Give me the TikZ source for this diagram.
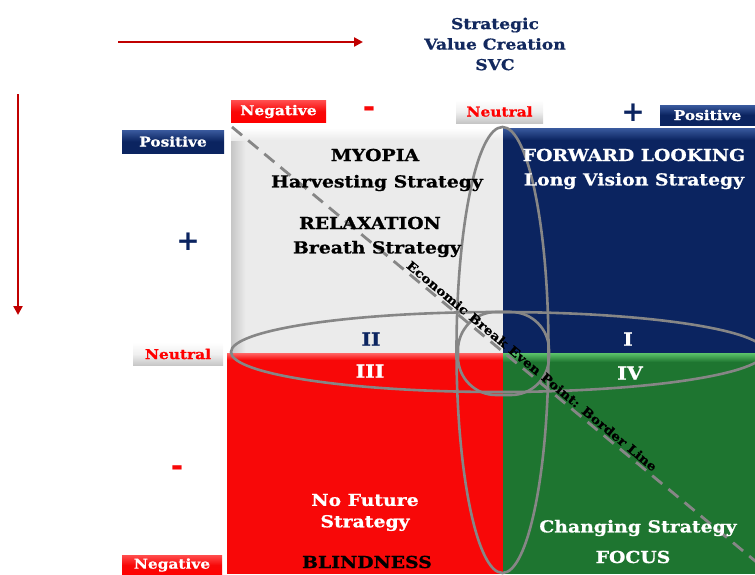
\documentclass[tikz,border=0pt]{standalone}
\usepackage{fontspec}
\setmainfont{DejaVu Serif}[FakeStretch=1.14, BoldFeatures={FakeBold=0.8}]
\newfontfamily\signfont{DejaVu Sans}
\usetikzlibrary{arrows.meta}
\definecolor{navy}{HTML}{0B2460}
\definecolor{navylight}{HTML}{3A5A9E}
\definecolor{titlenavy}{HTML}{13295E}
\definecolor{qred}{HTML}{F80808}
\definecolor{qgreen}{HTML}{1E7530}
\definecolor{qgreenlight}{HTML}{5CC46A}
\definecolor{qgray}{HTML}{EBEBEB}
\definecolor{linegray}{HTML}{868686}
\definecolor{arrowred}{HTML}{C00000}
\begin{document}
\begin{tikzpicture}[x=1pt,y=-1pt,
  lab/.style={font=\fontsize{16.5}{18}\selectfont\bfseries, inner sep=0pt, align=center},
  num/.style={font=\fontsize{18}{20}\selectfont\bfseries, inner sep=0pt},
  tagbox/.style={rectangle, inner sep=0pt, font=\fontsize{13.5}{14}\selectfont\bfseries},
  negtag/.style={tagbox, top color=red!70!white, bottom color=red, middle color=qred, text=white},
  postag/.style={tagbox, top color=navylight, bottom color=navy, middle color=navy, text=white},
  neutag/.style={tagbox, top color=white, bottom color=gray!45, middle color=gray!12, text=red},
  axisarrow/.style={draw=arrowred, line width=2.6pt, -{Triangle[length=9pt,width=9pt]}},
  ring/.style={draw=linegray, line width=2.6pt},
  border/.style={draw=linegray, line width=2.8pt, dash pattern=on 13pt off 8pt}
]
\useasboundingbox (0,0) rectangle (755,574);
\begin{scope}
\clip (0,0) rectangle (755,574);
% quadrants
\shade[left color=gray!45, right color=qgray, middle color=qgray] (231,128) rectangle (260,353);
\fill[qgray] (259,128) rectangle (503,353);
\shade[top color=white, bottom color=qgray] (231,128) rectangle (503,140);
\fill[navy] (503,128) rectangle (755,353);
\shade[top color=navylight, bottom color=navy] (503,128) rectangle (755,140);
\fill[qred] (227,353) rectangle (503,574);
\shade[top color=red!60!white, bottom color=qred] (227,353) rectangle (503,360);
\fill[qgreen] (503,353) rectangle (755,574);
\shade[top color=qgreenlight, bottom color=qgreen] (503,353) rectangle (755,362);
% ellipses
\draw[ring] (498,352) ellipse [x radius=267pt, y radius=40pt];
\draw[ring] (502.5,350) ellipse [x radius=46pt, y radius=223pt];
\draw[ring, rounded corners=38pt] (458,312) rectangle (549,395);
% border line
\coordinate (b1) at (232,127);
\coordinate (b2) at (760,565);
\draw[border] (b1) -- (b2);
\end{scope}
% axis arrows
\coordinate (ha) at (118,42);
\coordinate (hb) at (363,42);
\draw[axisarrow] (ha) -- (hb);
\coordinate (va) at (18,94);
\coordinate (vb) at (18,315);
\draw[axisarrow] (va) -- (vb);
% title
\node[font=\fontsize{15}{20.5}\selectfont\bfseries, text=titlenavy, align=center, inner sep=0pt] (title) at (495,44) {Strategic\\Value Creation\\SVC};
% tags
\node[negtag, minimum width=95pt, minimum height=22pt] (negtop) at (278.5,111.5) {Negative};
\node[neutag, minimum width=87pt, minimum height=23pt] (neutop) at (499.5,111.5) {Neutral};
\node[postag, minimum width=95pt, minimum height=20pt] (postop) at (707.5,115) {Positive};
\node[postag, minimum width=102pt, minimum height=23pt] (posleft) at (173,141.5) {Positive};
\node[neutag, minimum width=90pt, minimum height=23pt] (neuleft) at (178,354) {Neutral};
\node[negtag, minimum width=100pt, minimum height=20pt] (negleft) at (172,565) {Negative};
% signs
\node[font=\signfont\fontsize{30}{30}\selectfont\bfseries, text=qred, inner sep=0pt] (minustop) at (369,112) {-};
\node[font=\signfont\fontsize{30}{30}\selectfont\bfseries, text=qred, inner sep=0pt] (minusleft) at (177,471) {-};
\node[font=\signfont\fontsize{28}{28}\selectfont\bfseries, text=navy, inner sep=0pt] (plustop) at (633,113) {+};
\node[font=\signfont\fontsize{28}{28}\selectfont\bfseries, text=navy, inner sep=0pt] (plusleft) at (188,242) {+};
% quadrant texts
\node[lab] (myopia) at (375,155) {MYOPIA};
\node[lab] (harv) at (377,183) {Harvesting Strategy};
\node[lab] (relax) at (370,223) {RELAXATION};
\node[lab] (breath) at (377,249) {Breath Strategy};
\node[lab, text=white] (fwd) at (634,155) {FORWARD LOOKING};
\node[lab, text=white] (longv) at (634,181) {Long Vision Strategy};
\node[num, text=navy] (q2) at (371,339) {II};
\node[num, text=white] (q1) at (628,339) {I};
\node[num, text=white] (q3) at (370,371) {III};
\node[num, text=white] (q4) at (630,373) {IV};
\node[lab, text=white] (nofut) at (365,500) {No Future};
\node[lab, text=white] (nofut2) at (365,523) {Strategy};
\node[lab] (blind) at (367,562) {BLINDNESS};
\node[lab, text=white] (chg) at (638,528) {Changing Strategy};
\node[lab, text=white] (focus) at (633,557) {FOCUS};
% border label
\node[font=\fontsize{12.2}{13}\selectfont\bfseries, inner sep=0pt, rotate=-39.7] (blabel) at (532,366) {Economic Break Even Point: Border Line};
\end{tikzpicture}
\end{document}
